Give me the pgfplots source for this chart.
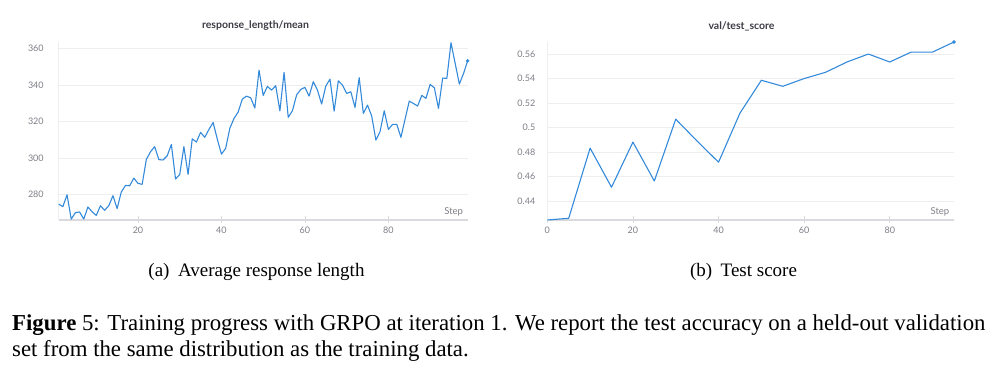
\documentclass[border=0pt]{standalone}
\usepackage{fontspec}
\setmainfont{Liberation Serif}
\newfontfamily\chartfont{Lato}
\usepackage{pgfplots}
\pgfplotsset{compat=1.18}
\definecolor{wb}{RGB}{52,138,218}
\definecolor{tickgray}{RGB}{125,125,135}
\definecolor{titlegray}{RGB}{60,60,70}
\definecolor{gridgray}{RGB}{238,238,241}
\definecolor{axgray}{RGB}{218,218,222}
\pgfplotsset{wbaxis/.style={
  scale only axis, anchor=south west,
  axis x line*=bottom, axis y line*=left,
  x axis line style={draw=axgray, line width=1.6pt, -},
  y axis line style={draw=gridgray, line width=0.9pt, -},
  ymajorgrids, grid style={draw=gridgray, line width=0.8pt},
  xtick style={draw=axgray, line width=0.8pt},
  ytick style={draw=none},
  major tick length=7pt, tick align=center,
  tick label style={font=\chartfont\fontsize{9}{10}\selectfont, text=tickgray},
  /pgf/number format/assume math mode=true,
  clip=false,
}}
\pgfplotstableread{
x y
1 274.9
2 273.5
3 280.0
4 266.7
5 270.2
6 270.6
7 266.7
8 273.3
9 270.7
10 268.7
11 274.0
12 271.5
13 274.0
14 279.5
15 272.4
16 281.5
17 285.1
18 284.9
19 289.1
20 286.2
21 285.7
22 299.3
23 303.5
24 306.3
25 299.2
26 299.0
27 301.3
28 307.5
29 288.6
30 291.1
31 306.3
32 291.1
33 310.6
34 308.8
35 314.1
36 311.4
37 315.7
38 319.5
39 310.4
40 302.2
41 305.3
42 316.3
43 321.7
44 325.2
45 332.3
46 333.9
47 333.0
48 327.4
49 348.1
50 334.3
51 339.2
52 337.2
53 339.6
54 325.8
55 346.9
56 322.3
57 325.9
58 334.5
59 337.6
60 338.7
61 333.9
62 341.8
63 337.2
64 329.6
65 339.4
66 343.2
67 325.7
68 342.3
69 339.9
70 335.4
71 336.3
72 327.7
73 344.0
74 324.5
75 329.0
76 323.0
77 309.9
78 314.5
79 325.9
80 315.7
81 318.5
82 318.5
83 311.4
84 321.4
85 331.2
86 329.9
87 328.5
88 334.3
89 332.7
90 340.3
91 338.5
92 327.2
93 343.8
94 343.6
95 363.1
96 351.8
97 340.5
98 346.3
99 353.2
}\lengthdata
\pgfplotstableread{
x y
0 0.4247
5 0.4261
10 0.4833
15 0.4514
20 0.4882
25 0.4565
30 0.5069
35 0.4890
40 0.4718
45 0.5118
50 0.5386
55 0.5337
60 0.5400
65 0.5451
70 0.5535
75 0.5600
80 0.5535
85 0.5616
90 0.5616
95 0.5698
}\scoredata
\begin{document}
\begin{tikzpicture}
\useasboundingbox (0,0) rectangle (999pt,375pt);
% left chart
\begin{axis}[wbaxis, at={(58.7pt,155pt)}, width=409pt, height=178pt,
  xmin=1, xmax=99, ymin=266.2, ymax=363.5,
  xtick={20,40,60,80}, ytick={280,300,320,340,360},
  yticklabel style={xshift=-8pt}]
\addplot[wb, line width=1.1pt, line join=round] table[x=x,y=y] {\lengthdata};
\addplot[wb, only marks, mark=*, mark size=1.6pt] coordinates {(99,353.2)};
\node[anchor=south east, inner sep=0pt, font=\chartfont\fontsize{9.5}{10}\selectfont, text=tickgray] at (rel axis cs:1,0) [xshift=-4.5pt, yshift=4pt] {Step};
\end{axis}
% right chart
\begin{axis}[wbaxis, at={(547.3pt,155pt)}, width=406.7pt, height=178pt,
  xmin=0, xmax=95, ymin=0.4247, ymax=0.5698,
  xtick={0,20,40,60,80}, ytick={0.44,0.46,0.48,0.5,0.52,0.54,0.56},
  yticklabel style={xshift=-5pt}]
\addplot[wb, line width=1.1pt, line join=round] table[x=x,y=y] {\scoredata};
\addplot[wb, only marks, mark=*, mark size=1.6pt] coordinates {(95,0.5698)};
\node[anchor=south east, inner sep=0pt, font=\chartfont\fontsize{9.5}{10}\selectfont, text=tickgray] at (rel axis cs:1,0) [xshift=-4.5pt, yshift=4pt] {Step};
\end{axis}
% titles
\node[font=\chartfont\bfseries\fontsize{10.5}{12}\selectfont, text=titlegray] at (255.5pt,349pt) {response\_length/mean};
\node[font=\chartfont\bfseries\fontsize{10.5}{12}\selectfont, text=titlegray] at (741.5pt,349pt) {val/test\_score};
% subcaptions
\node[anchor=base, inner sep=0pt, font=\fontsize{19}{22}\selectfont] at (256.5pt,98pt) {(a)\hspace{0.45em}Average response length};
\node[anchor=base, inner sep=0pt, font=\fontsize{19}{22}\selectfont] at (743.5pt,98pt) {(b)\hspace{0.45em}Test score};
% figure caption
\node[anchor=base west, inner sep=0pt, font=\fontsize{22.8}{27}\selectfont] at (12pt,45pt) {\textbf{Figure} 5: Training progress with GRPO at iteration 1. We report the test accuracy on a held-out validation};
\node[anchor=base west, inner sep=0pt, font=\fontsize{22.8}{27}\selectfont] at (12pt,18pt) {set from the same distribution as the training data.};
\end{tikzpicture}
\end{document}
